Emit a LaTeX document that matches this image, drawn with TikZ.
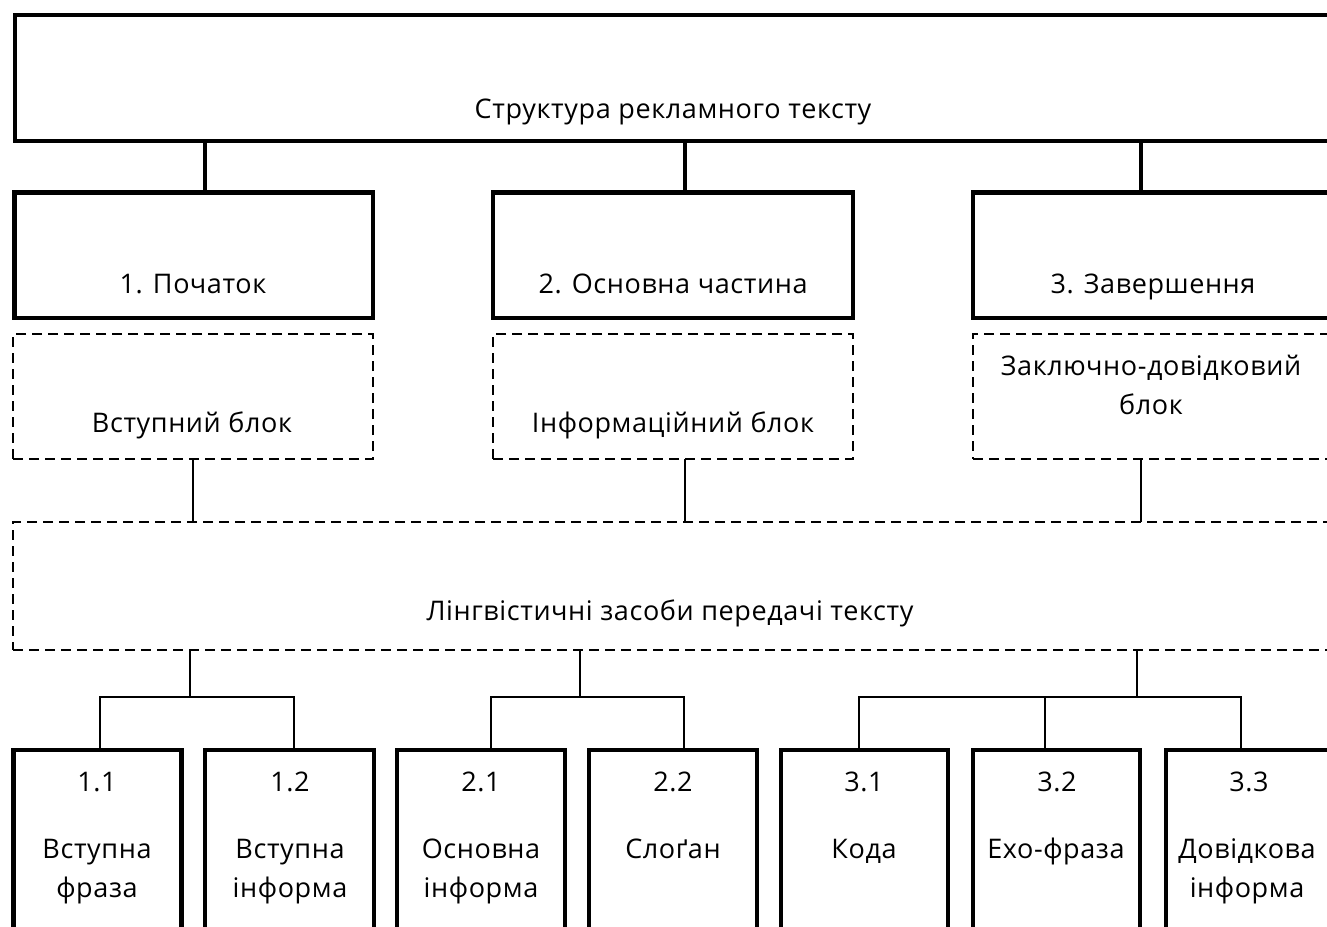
\documentclass[tikz,border=0pt]{standalone}
\usepackage{fontspec}
\setmainfont{Open Sans}[LetterSpace=2.2]
\begin{document}
\begin{tikzpicture}[x=1pt,y=-1pt,
  thickbox/.style={draw=black, line width=4.5pt, inner sep=0pt, outer sep=0pt},
  dashbox/.style={draw=black, line width=1.8pt, dash pattern=on 10pt off 6pt, inner sep=0pt, outer sep=0pt},
  thickconn/.style={draw=black, line width=4.5pt},
  thinconn/.style={draw=black, line width=1.8pt},
  lbl/.style={anchor=base, inner sep=0pt, outer sep=0pt, font=\fontsize{27}{31}\selectfont},
]
\useasboundingbox (0,0) rectangle (1327,926);
\clip (0,0) rectangle (1327,926);

% top box
\node[thickbox, minimum width=1330pt, minimum height=126pt] (top) at (680,78) {};
\node[lbl] (ttop) at (673,118) {Структура рекламного тексту};

% level 2
\node[thickbox, minimum width=358.5pt, minimum height=125.5pt] (b1) at (193.75,255.25) {};
\node[thickbox, minimum width=360pt, minimum height=125.5pt] (b2) at (673,255.25) {};
\node[thickbox, minimum width=372pt, minimum height=125.5pt] (b3) at (1159,255.25) {};
\node[lbl] (tb1) at (193,293) {1. Початок};
\node[lbl] (tb2) at (673,293) {2. Основна частина};
\node[lbl] (tb3) at (1153,293) {3. Завершення};

% dashed level
\node[dashbox, minimum width=360pt, minimum height=125pt] (d1) at (193,396.5) {};
\node[dashbox, minimum width=360pt, minimum height=125pt] (d2) at (673,396.5) {};
\node[dashbox, minimum width=372pt, minimum height=125pt] (d3) at (1159,396.5) {};
\node[lbl] (td1) at (192,432) {Вступний блок};
\node[lbl] (td2) at (673,432) {Інформаційний блок};
\node[lbl] (td3a) at (1151,375) {Заключно-довідковий};
\node[lbl] (td3b) at (1151,414) {блок};

% big dashed box
\node[dashbox, minimum width=1332pt, minimum height=128pt] (big) at (679,586) {};
\node[lbl] (tbig) at (670,620) {Лінгвістичні засоби передачі тексту};

% bottom boxes
\node[thickbox, minimum width=168pt, minimum height=210pt] (s11) at (97.5,855) {};
\node[thickbox, minimum width=169pt, minimum height=210pt] (s12) at (289.5,855) {};
\node[thickbox, minimum width=168pt, minimum height=210pt] (s21) at (481,855) {};
\node[thickbox, minimum width=168pt, minimum height=210pt] (s22) at (673,855) {};
\node[thickbox, minimum width=167pt, minimum height=210pt] (s31) at (864.5,855) {};
\node[thickbox, minimum width=167pt, minimum height=210pt] (s32) at (1056.5,855) {};
\node[thickbox, minimum width=167pt, minimum height=210pt] (s33) at (1249.5,855) {};

\node[lbl] (n11) at (97,791) {1.1};
\node[lbl] (n12) at (290,791) {1.2};
\node[lbl] (n21) at (481,791) {2.1};
\node[lbl] (n22) at (673,791) {2.2};
\node[lbl] (n31) at (864,791) {3.1};
\node[lbl] (n32) at (1057,791) {3.2};
\node[lbl] (n33) at (1249,791) {3.3};

\node[lbl] (a11) at (97,858) {Вступна};
\node[lbl] (b11) at (97,897) {фраза};
\node[lbl] (a12) at (290,858) {Вступна};
\node[lbl] (b12) at (290,897) {інформа};
\node[lbl] (a21) at (481,858) {Основна};
\node[lbl] (b21) at (481,897) {інформа};
\node[lbl] (a22) at (673,858) {Слоґан};
\node[lbl] (a31) at (864,858) {Кода};
\node[lbl] (a32) at (1056,858) {Ехо-фраза};
\node[lbl] (a33) at (1247,858) {Довідкова};
\node[lbl] (b33) at (1247,897) {інформа};

% connector coordinates
\coordinate (c1) at (205,0);
\coordinate (c2) at (685,0);
\coordinate (c3) at (1141,0);
\coordinate (e1) at (193,0);
\coordinate (e2) at (685,0);
\coordinate (e3) at (1141,0);
\coordinate (j1) at (190,697);
\coordinate (j2) at (580,697);
\coordinate (j3) at (1137,697);
\coordinate (h1a) at (100,697);
\coordinate (h1b) at (294,697);
\coordinate (h2a) at (491,697);
\coordinate (h2b) at (684,697);
\coordinate (h3a) at (859,697);
\coordinate (h3m) at (1045,697);
\coordinate (h3b) at (1241,697);

% top connectors
\draw[thickconn] (top.south -| c1) -- (b1.north -| c1);
\draw[thickconn] (top.south -| c2) -- (b2.north -| c2);
\draw[thickconn] (top.south -| c3) -- (b3.north -| c3);

% dashed to big
\draw[thinconn] (d1.south -| e1) -- (big.north -| e1);
\draw[thinconn] (d2.south -| e2) -- (big.north -| e2);
\draw[thinconn] (d3.south -| e3) -- (big.north -| e3);

% big to bottom
\draw[thinconn] (big.south -| j1) -- (j1);
\draw[thinconn] (s11.north -| h1a) -- (h1a) -- (h1b) -- (s12.north -| h1b);
\draw[thinconn] (big.south -| j2) -- (j2);
\draw[thinconn] (s21.north -| h2a) -- (h2a) -- (h2b) -- (s22.north -| h2b);
\draw[thinconn] (big.south -| j3) -- (j3);
\draw[thinconn] (s31.north -| h3a) -- (h3a) -- (h3b) -- (s33.north -| h3b);
\draw[thinconn] (h3m) -- (s32.north -| h3m);
\end{tikzpicture}
\end{document}
